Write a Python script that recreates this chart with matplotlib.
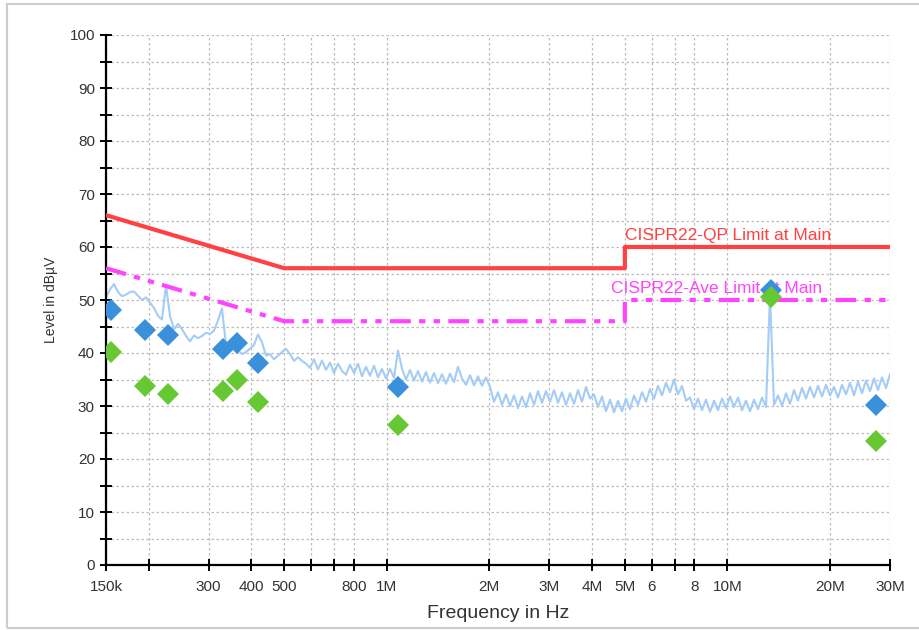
import numpy as np
import matplotlib.pyplot as plt
from matplotlib.ticker import FixedLocator, NullLocator, MultipleLocator
from matplotlib.patches import Rectangle

plt.rcParams['font.family'] = ['Liberation Sans', 'DejaVu Sans']

# limit lines (frequency in Hz, level in dBuV)
qp_freq = [150e3, 500e3, 5e6, 5e6, 30e6]
qp_level = [66, 56, 56, 60, 60]
av_freq = [150e3, 500e3, 5e6, 5e6, 30e6]
av_level = [56, 46, 46, 50, 50]

# final measurement points
meas_freq = [155e3, 195e3, 228e3, 331e3, 364e3, 419e3, 1.08e6, 13.4e6, 27.3e6]
qp_meas = [48.1, 44.3, 43.4, 40.8, 41.9, 38.1, 33.6, 51.9, 30.2]
av_meas = [40.2, 33.8, 32.3, 32.8, 34.9, 30.8, 26.4, 50.6, 23.4]

# preview scan, sampled on a log-spaced sweep from 150 kHz to 30 MHz
scan_level = [
    50.5, 52.0, 53.0, 51.5, 50.7, 51.0, 51.5, 51.6, 50.8, 50.0,
    50.5, 49.5, 48.5, 47.0, 46.3, 52.8, 47.0, 44.5, 45.5, 44.5,
    43.2, 42.2, 43.3, 42.8, 43.2, 43.8, 43.6, 44.2, 46.2, 48.4,
    41.5, 40.5, 41.2, 40.5, 39.8, 40.2, 40.8, 41.5, 43.5, 42.0,
    39.5, 39.8, 38.8, 39.5, 40.2, 40.8, 39.8, 38.5, 39.2, 38.5,
    38.0, 37.2, 38.8, 36.9, 38.6, 36.8, 38.2, 36.2, 38.0, 36.6,
    35.9, 37.8, 36.2, 38.0, 35.6, 37.4, 35.7, 37.6, 35.4, 37.0,
    35.2, 37.0, 35.3, 40.5, 37.0, 35.0, 36.8, 34.8, 36.6, 34.6,
    36.4, 34.4, 36.2, 34.3, 36.0, 34.2, 36.1, 34.5, 37.4, 35.2,
    34.0, 35.8, 33.9, 35.6, 33.8, 35.4, 33.6, 30.8, 32.6, 30.2,
    32.2, 30.0, 32.0, 29.6, 31.8, 29.8, 32.4, 30.2, 32.8, 30.6,
    32.8, 30.8, 33.0, 30.6, 32.6, 30.2, 32.4, 30.4, 33.0, 30.8,
    33.6, 31.4, 32.2, 29.8, 31.8, 29.0, 31.2, 28.8, 31.0, 29.0,
    31.4, 29.4, 32.0, 30.2, 32.6, 30.8, 33.2, 31.4, 33.8, 32.0,
    34.4, 32.6, 35.0, 32.2, 33.8, 31.0, 31.6, 29.4, 31.4, 29.2,
    31.2, 28.9, 31.0, 29.2, 31.4, 29.6, 31.8, 29.8, 31.6, 29.2,
    31.0, 29.0, 31.2, 29.4, 31.6, 29.8, 51.0, 30.2, 32.0, 30.0,
    32.4, 30.4, 33.0, 31.0, 33.4, 31.4, 33.6, 31.6, 33.8, 31.8,
    34.0, 32.0, 33.6, 31.6, 34.0, 32.2, 34.4, 32.0, 34.6, 32.4,
    34.8, 32.8, 35.2, 33.0, 35.4, 33.4, 36.0,
]
scan_freq = np.geomspace(150e3, 30e6, len(scan_level))

xtick_vals = [150e3, 200e3, 300e3, 400e3, 500e3, 600e3, 700e3, 800e3, 1e6,
              2e6, 3e6, 4e6, 5e6, 6e6, 7e6, 8e6, 10e6, 20e6, 30e6]
xtick_labels = ['150k', '', '300', '400', '500', '', '', '800', '1M',
                '2M', '3M', '4M', '5M', '6', '', '8', '10M', '20M', '30M']

fig = plt.figure(figsize=(9.2, 6.3), dpi=100)
ax = fig.add_axes([106 / 920, 1 - 565 / 630, 784 / 920, 530 / 630])

# light frame around the picture
fig.patches.append(Rectangle((7 / 920, 2 / 630), 1.2, 1 - 6 / 630,
                             transform=fig.transFigure, fill=False,
                             edgecolor='#cccccc', linewidth=1.5))

ax.plot(scan_freq, scan_level, color='#a3cdf6', linewidth=1.5, zorder=2)
ax.plot(qp_freq, qp_level, color='#ff4141', linewidth=3, zorder=3)
ax.plot(av_freq, av_level, color='#ff44ff', linewidth=3,
        dashes=(5, 2, 1.5, 2, 1.5, 2), zorder=3)
ax.plot(meas_freq, qp_meas, 'D', color='#3a90da', markersize=11,
        markeredgewidth=0, zorder=4)
ax.plot(meas_freq, av_meas, 'D', color='#66c933', markersize=11,
        markeredgewidth=0, zorder=5)

ax.text(5.0e6, 60.8, 'CISPR22-QP Limit at Main', color='#ff4141',
        fontsize=12.5, ha='left', va='bottom')
ax.text(4.55e6, 50.8, 'CISPR22-Ave Limit at Main', color='#ff44ff',
        fontsize=12.5, ha='left', va='bottom')

ax.set_xscale('log')
ax.set_xlim(150e3, 30e6)
ax.set_ylim(0, 100)
ax.xaxis.set_major_locator(FixedLocator(xtick_vals))
ax.xaxis.set_minor_locator(NullLocator())
ax.set_xticklabels(xtick_labels)
ax.yaxis.set_major_locator(MultipleLocator(10))
ax.yaxis.set_minor_locator(MultipleLocator(5))

ax.grid(True, which='both', axis='y', color='#bcbcbc',
        linestyle=(0, (2, 2)), linewidth=0.9)
ax.grid(True, which='major', axis='x', color='#bcbcbc',
        linestyle=(0, (2, 2)), linewidth=0.9)

ax.spines['top'].set_visible(False)
ax.spines['right'].set_visible(False)
ax.spines['left'].set_linewidth(1.6)
ax.spines['bottom'].set_linewidth(1.6)
ax.tick_params(which='both', direction='inout', length=9, width=1.4,
               labelsize=11, labelcolor='#333333')
ax.tick_params(axis='x', pad=6)

ax.set_xlabel('Frequency in Hz', fontsize=14, color='#333333', labelpad=8)
ax.set_ylabel('Level in dBµV', fontsize=10, color='#333333', labelpad=8)

fig.savefig('out.png', dpi=100)
